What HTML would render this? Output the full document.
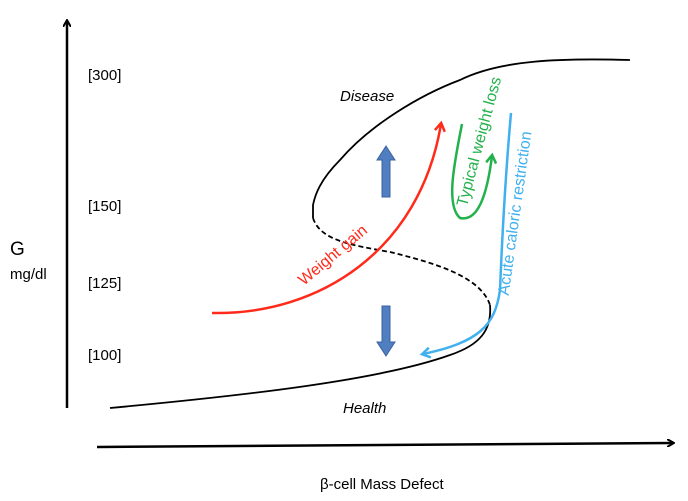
<!DOCTYPE html>
<html><head><meta charset="utf-8"><style>
html,body{margin:0;padding:0;background:#fff;}
svg{display:block;font-family:"Liberation Sans",sans-serif;}
</style></head><body>
<svg width="688" height="501" viewBox="0 0 688 501" xmlns="http://www.w3.org/2000/svg">
<defs>
<marker id="ak" markerWidth="8" markerHeight="8" refX="5" refY="4" orient="auto" markerUnits="userSpaceOnUse"><path d="M0,0 L7,4 L0,8" fill="none" stroke="#000" stroke-width="2"/></marker>
<marker id="ar" markerWidth="12" markerHeight="12" refX="8" refY="6" orient="auto" markerUnits="userSpaceOnUse"><path d="M1,1 L9,6 L1,11" fill="none" stroke="#ff2a1a" stroke-width="2.5"/></marker>
<marker id="ag" markerWidth="12" markerHeight="12" refX="8" refY="6" orient="auto" markerUnits="userSpaceOnUse"><path d="M1,1 L9,6 L1,11" fill="none" stroke="#22b14c" stroke-width="2.5"/></marker>
<marker id="ab" markerWidth="12" markerHeight="12" refX="8" refY="6" orient="auto" markerUnits="userSpaceOnUse"><path d="M1,1 L9,6 L1,11" fill="none" stroke="#41b0ef" stroke-width="2.5"/></marker>
</defs>
<line x1="67" y1="408" x2="67" y2="22" stroke="#000" stroke-width="2.5" marker-end="url(#ak)"/>
<line x1="97" y1="447" x2="672" y2="443" stroke="#000" stroke-width="2.5" marker-end="url(#ak)"/>
<g font-size="15" fill="#000">
<text x="88" y="80">[300]</text>
<text x="88" y="211">[150]</text>
<text x="88" y="288">[125]</text>
<text x="88" y="360">[100]</text>
<text x="10" y="255" font-size="19">G</text>
<text x="10" y="279" font-size="15">mg/dl</text>
<text x="320" y="489" font-size="15">β-cell Mass Defect</text>
<text x="340" y="101" font-style="italic" font-size="15">Disease</text>
<text x="343" y="413" font-style="italic" font-size="15">Health</text>
</g>
<path d="M630,60 C560,58 500,60 460,80 C420,95 370,125 340,160 C320,180 315,195 313,205 L313,218" fill="none" stroke="#000" stroke-width="1.8"/>
<path d="M313,218 C320,240 350,245 390,252 C430,262 480,275 490,305" fill="none" stroke="#000" stroke-width="1.8" stroke-dasharray="5,3"/>
<path d="M490,305 C492,330 480,345 450,355 C380,380 250,395 110,408" fill="none" stroke="#000" stroke-width="1.8"/>
<path d="M212,313 C320,315 420,250 441,124" fill="none" stroke="#ff2a1a" stroke-width="2.5" marker-end="url(#ar)"/>
<text transform="translate(336,259) rotate(-40)" text-anchor="middle" font-size="16" fill="#ff2a1a">Weight gain</text>
<path d="M462,124 C455,160 445,205 460,218 C478,222 487,195 492,156" fill="none" stroke="#22b14c" stroke-width="2.5" marker-end="url(#ag)"/>
<text transform="translate(484,143) rotate(-75)" text-anchor="middle" font-size="16" fill="#22b14c">Typical weight loss</text>
<path d="M511,113 C505,180 502,240 500,290 C495,325 480,342 423,354" fill="none" stroke="#41b0ef" stroke-width="2.5" marker-end="url(#ab)"/>
<text transform="translate(520,214) rotate(-82)" text-anchor="middle" font-size="16" fill="#41b0ef">Acute caloric restriction</text>
<path d="M382,197 V160 H377 L386,146 L395,160 H390 V197 Z" fill="#4f7fc0" stroke="#3a62a0" stroke-width="1"/>
<path d="M382,306 V342 H377 L386,356 L395,342 H390 V306 Z" fill="#4f7fc0" stroke="#3a62a0" stroke-width="1"/>
</svg>
</body></html>
